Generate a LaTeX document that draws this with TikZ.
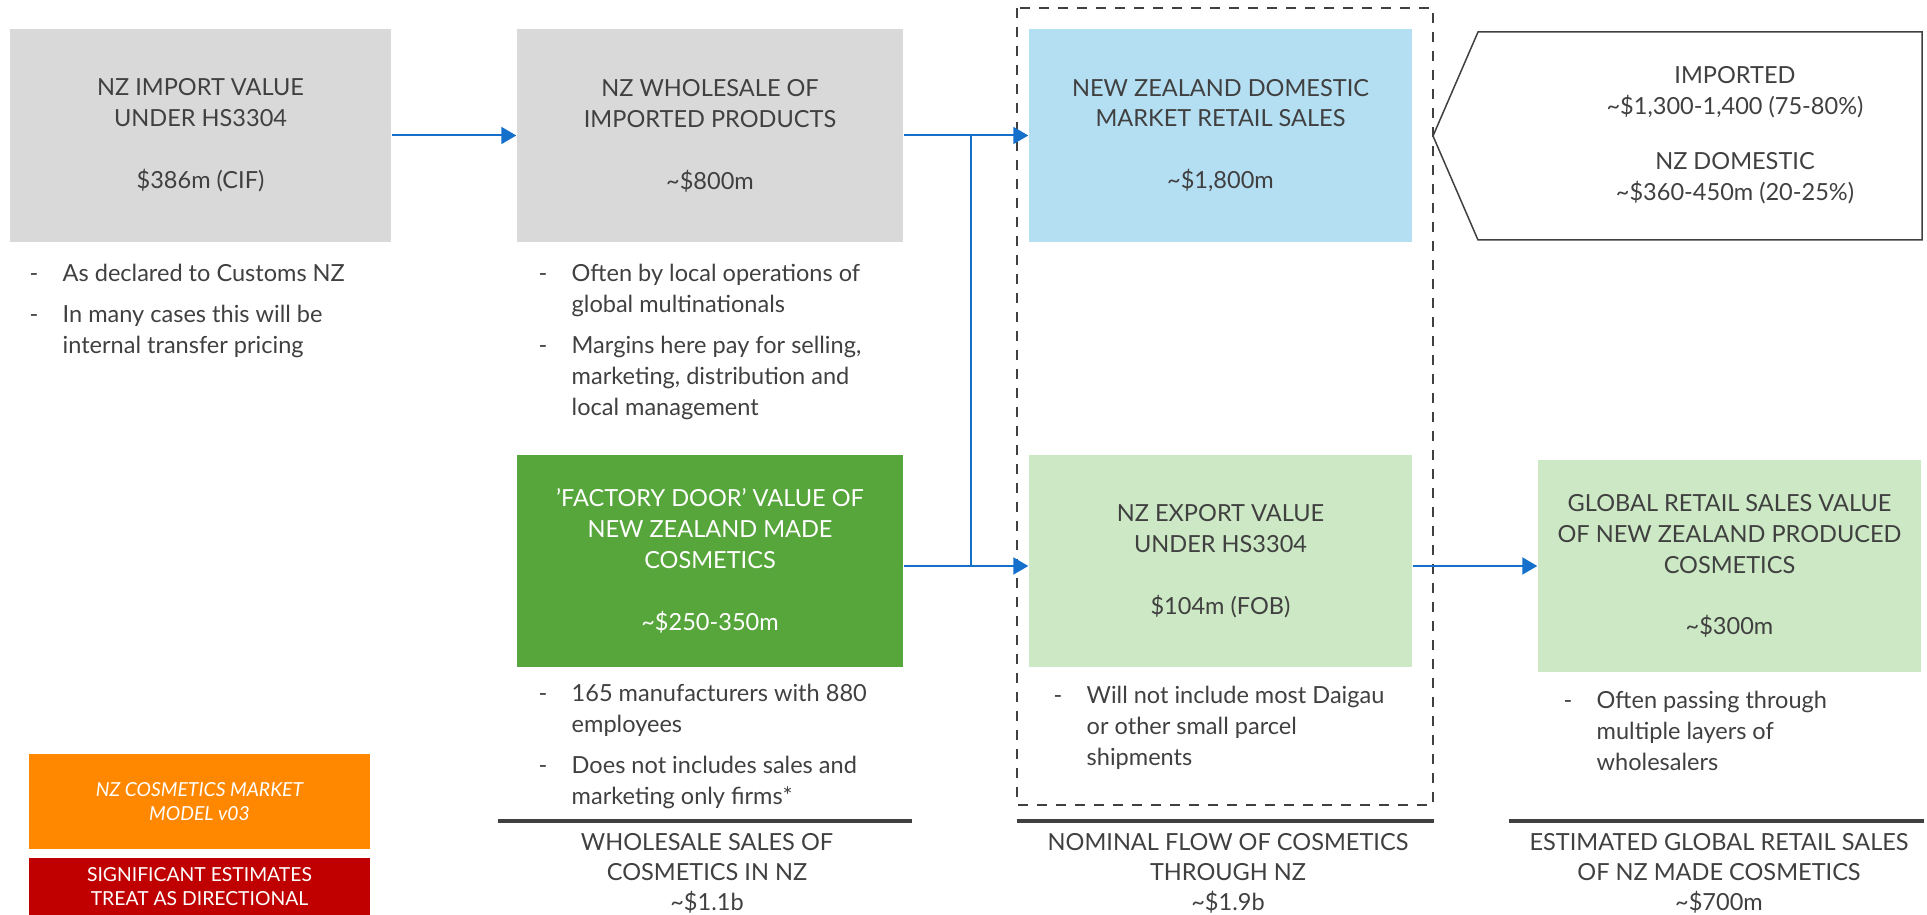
\documentclass[tikz,border=0pt]{standalone}
\usepackage{fontspec}
\setmainfont{Lato}
\usepackage{tikz}
\usetikzlibrary{arrows.meta,positioning,calc}
\definecolor{txtgray}{RGB}{64,64,64}
\definecolor{boxgray}{RGB}{217,217,217}
\definecolor{retailblue}{RGB}{180,222,242}
\definecolor{nzgreen}{RGB}{87,166,60}
\definecolor{palegreen}{RGB}{204,232,196}
\definecolor{flowblue}{RGB}{21,112,204}
\definecolor{modelorange}{RGB}{255,136,0}
\definecolor{warnred}{RGB}{192,0,0}
\newcommand{\apx}{\textasciitilde}
\newcommand{\notes}[1]{\begin{tabular}[t]{@{}p{3.3mm}@{}l@{}}#1\end{tabular}}
\newcommand{\footlabel}[1]{{\renewcommand{\arraystretch}{0.96}\begin{tabular}[t]{@{}c@{}}#1\end{tabular}}}

\begin{document}
\begin{tikzpicture}[
    every node/.style={font=\fontsize{6.7}{8.8}\selectfont, text=txtgray, inner sep=0pt},
    stage/.style={minimum height=2.13cm, align=center},
    flow/.style={line width=0.2mm, flowblue, -{Triangle[length=1.5mm,width=1.7mm]}},
    link/.style={line width=0.2mm, flowblue},
    rule/.style={line width=0.4mm, txtgray},
    tag/.style={text=white, align=center, font=\fontsize{5.5}{6.8}\selectfont}
]
    \useasboundingbox (0,0) rectangle (19.27,9.15);

    % top row
    \node[stage, fill=boxgray, minimum width=3.81cm] (importv) at (2.005,7.795)
        {NZ IMPORT VALUE\\UNDER HS3304\\[8.8pt]\$386m (CIF)};
    \node[stage, fill=boxgray, minimum width=3.86cm] (wholesale) at (7.10,7.795)
        {NZ WHOLESALE OF\\IMPORTED PRODUCTS\\[8.8pt]\apx\$800m};
    \node[stage, fill=retailblue, minimum width=3.83cm] (retail) at (12.205,7.795)
        {NEW ZEALAND DOMESTIC\\MARKET RETAIL SALES\\[8.8pt]\apx\$1,800m};

    % split of retail sales
    \draw[line width=0.15mm, txtgray] (14.33,7.79) -- (14.78,8.83) -- (19.22,8.83)
        -- (19.22,6.75) -- (14.78,6.75) -- cycle;
    \node[align=center] (mix) at (17.35,7.80)
        {IMPORTED\\\apx\$1,300-1,400 (75-80\%)\\[6.8pt]NZ DOMESTIC\\\apx\$360-450m (20-25\%)};

    % bottom row
    \node[stage, fill=nzgreen, text=white, minimum width=3.86cm, minimum height=2.12cm] (factory) at (7.10,3.54)
        {’FACTORY DOOR’ VALUE OF\\NEW ZEALAND MADE\\COSMETICS\\[8.8pt]\apx\$250-350m};
    \node[stage, fill=palegreen, minimum width=3.83cm, minimum height=2.12cm] (exportv) at (12.205,3.54)
        {NZ EXPORT VALUE\\UNDER HS3304\\[8.8pt]\$104m (FOB)};
    \node[stage, fill=palegreen, minimum width=3.83cm, minimum height=2.12cm] (globalv) at (17.295,3.49)
        {GLOBAL RETAIL SALES VALUE\\OF NEW ZEALAND PRODUCED\\COSMETICS\\[8.8pt]\apx\$300m};

    % notes under the boxes
    \node[anchor=base west] (importnotes) at (0.29,6.33)
        {\notes{- & As declared to Customs NZ\\[2.8pt] - & In many cases this will be\\ & internal transfer pricing}};
    \node[anchor=base west] (wholenotes) at (5.38,6.33)
        {\notes{- & Often by local operations of\\ & global multinationals\\[2.8pt] - & Margins here pay for selling,\\ & marketing, distribution and\\ & local management}};
    \node[anchor=base west] (factorynotes) at (5.38,2.13)
        {\notes{- & 165 manufacturers with 880\\ & employees\\[2.8pt] - & Does not includes sales and\\ & marketing only firms*}};
    \node[anchor=base west] (exportnotes) at (10.53,2.11)
        {\notes{- & Will not include most Daigau\\ & or other small parcel\\ & shipments}};
    \node[anchor=base west] (globalnotes) at (15.63,2.06)
        {\notes{- & Often passing through\\ & multiple layers of\\ & wholesalers}};

    % nominal flow frame
    \draw[line width=0.2mm, txtgray, dash pattern=on 1mm off 0.9mm] (10.17,9.07) rectangle (14.33,1.10);

    % connectors
    \coordinate (split) at (9.71,0);
    \draw[flow] (importv) -- (wholesale);
    \draw[link] (split |- wholesale.east) -- (split |- globalv.west);
    \draw[flow] (wholesale) -- (retail);
    \draw[flow] (factory.east |- globalv.west) -- (exportv.west |- globalv.west);
    \draw[flow] (exportv.east |- globalv.west) -- (globalv.west);

    % totals
    \draw[rule] (4.98,0.94) -- (9.12,0.94);
    \draw[rule] (10.17,0.94) -- (14.34,0.94);
    \draw[rule] (15.09,0.94) -- (19.24,0.94);
    \node[anchor=base] (wholetotal) at (7.07,0.64)
        {\footlabel{WHOLESALE SALES OF\\COSMETICS IN NZ\\\apx\$1.1b}};
    \node[anchor=base] (flowtotal) at (12.28,0.64)
        {\footlabel{NOMINAL FLOW OF COSMETICS\\THROUGH NZ\\\apx\$1.9b}};
    \node[anchor=base] (globaltotal) at (17.19,0.64)
        {\footlabel{ESTIMATED GLOBAL RETAIL SALES\\OF NZ MADE COSMETICS\\\apx\$700m}};

    % version and warning tags
    \node[tag, fill=modelorange, minimum width=3.41cm, minimum height=0.95cm] (model) at (1.995,1.135)
        {\itshape NZ COSMETICS MARKET\\\itshape MODEL v03};
    \node[tag, fill=warnred, minimum width=3.41cm, minimum height=0.57cm] (warning) at (1.995,0.285)
        {SIGNIFICANT ESTIMATES\\TREAT AS DIRECTIONAL};
\end{tikzpicture}
\end{document}
